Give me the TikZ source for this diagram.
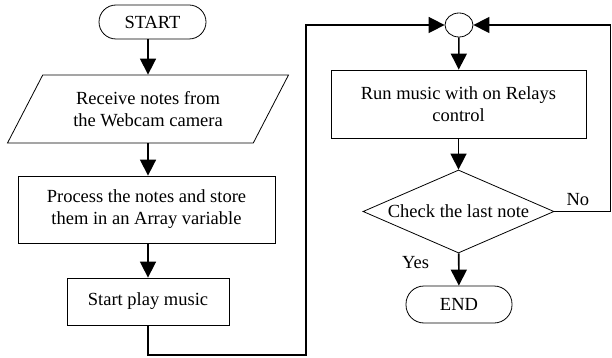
\documentclass[tikz,border=0pt]{standalone}
\usepackage{fontspec}
\setmainfont{Liberation Serif}
\usepackage{tikz}
\usetikzlibrary{arrows.meta,shapes.geometric,positioning}

\tikzset{
  txt/.style={font=\fontsize{18.5}{22}\selectfont, align=center},
  term/.style={txt, draw, line width=0.8pt, rounded corners=17pt, minimum height=34pt},
  io/.style={txt, draw, line width=0.8pt, trapezium, trapezium left angle=50,
    trapezium right angle=130, trapezium stretches body, minimum width=281pt, minimum height=68pt},
  procbox/.style={txt, draw, line width=0.8pt, minimum height=47pt},
  decide/.style={txt, draw, line width=0.8pt, diamond, aspect=2.3, inner sep=0pt,
    minimum width=191pt, minimum height=83pt},
  junction/.style={draw, line width=0.8pt, ellipse, minimum width=28pt, minimum height=24pt, inner sep=0pt},
  flow/.style={line width=1.6pt, -{Triangle[length=16pt,width=16pt]}},
  tag/.style={txt, inner sep=0pt}
}

\begin{document}
\begin{tikzpicture}[x=1pt, y=-1pt]
    \useasboundingbox (0,0) rectangle (612,358);

    % Left column
    % ---------------------
    \node[term, minimum width=107pt] (start) at (152.5,22) {START};
    \node[io] (recv) at (148,109) {Receive notes from\\the Webcam camera};
    \node[procbox, minimum width=257pt, minimum height=67pt] (proc) at (146.5,209.5)
      {Process the notes and store\\them in an Array variable};
    \node[procbox, minimum width=162pt] (play) at (148,301.5) {Start play music};

    \draw[flow] (recv.north |- start.south) -- (recv.north);
    \draw[flow] (recv.south) -- (recv.south |- proc.north);
    \draw[flow] (play.north |- proc.south) -- (play.north);

    % Right column
    % ---------------------
    \node[junction] (join) at (459,25) {};
    \node[procbox, minimum width=255pt, minimum height=68pt] (run) at (458.5,104)
      {Run music with on Relays\\control};
    \node[decide] (check) at (458.5,211.5) {Check the last note};
    \node[term, minimum width=106pt, minimum height=37pt, rounded corners=18pt] (end) at (459,304.5) {END};

    \draw[flow] (join) -- (run);
    \draw[flow] (run) -- (check);
    \draw[flow] (check) -- node[tag, pos=0.3, left=29pt] {Yes} (end);

    % Loops into the junction
    % ---------------------
    \coordinate (loopL) at (306,355);
    \path (check.east) ++(56,0) coordinate (loopR);
    \draw[flow] (play) |- (loopL) |- (join);
    \draw[flow] (check.east) -- node[tag, pos=0.42, above=5pt] {No} (loopR) |- (join);
\end{tikzpicture}
\end{document}
